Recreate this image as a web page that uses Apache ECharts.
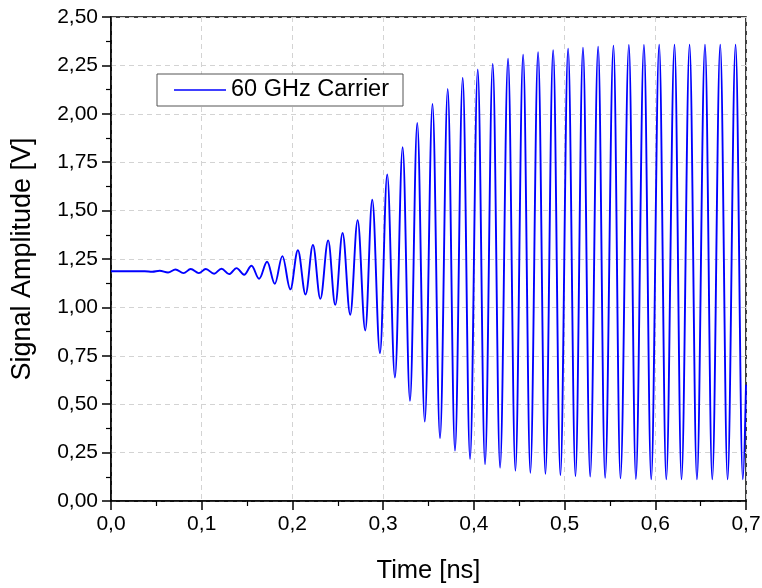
<!DOCTYPE html>
<html>
<head>
<meta charset="utf-8">
<script src="https://cdn.jsdelivr.net/npm/echarts@6/dist/echarts.min.js"></script>
<style>
html,body{margin:0;padding:0;background:#fff;}
#chart{width:762px;height:588px;}
</style>
</head>
<body>
<div id="chart"></div>
<script>
// Extrema (peaks and troughs) of the waveform
var timeNs = [0.0000, 0.0372, 0.0455, 0.0537, 0.0629, 0.0711, 0.0799, 0.0879, 0.0968, 0.1045,
  0.1137, 0.1218, 0.1302, 0.1384, 0.1468, 0.1549, 0.1633, 0.1721, 0.1806, 0.1889,
  0.1977, 0.2060, 0.2145, 0.2226, 0.2308, 0.2394, 0.2472, 0.2553, 0.2637, 0.2719,
  0.2803, 0.2880, 0.2965, 0.3045, 0.3130, 0.3215, 0.3296, 0.3376, 0.3459, 0.3544,
  0.3627, 0.3712, 0.3792, 0.3877, 0.3958, 0.4043, 0.4123, 0.4208, 0.4289, 0.4377,
  0.4458, 0.4543, 0.4623, 0.4708, 0.4789, 0.4874, 0.4954, 0.5039, 0.5120, 0.5203,
  0.5282, 0.5370, 0.5447, 0.5539, 0.5616, 0.5709, 0.5786, 0.5875, 0.5955, 0.6043,
  0.6121, 0.6212, 0.6289, 0.6378, 0.6459, 0.6548, 0.6628, 0.6716, 0.6797, 0.6885,
  0.6965, 0.7000];
var amplitudeV = [1.187, 1.187, 1.184, 1.189, 1.180, 1.196, 1.177, 1.198, 1.177, 1.198,
  1.174, 1.200, 1.172, 1.203, 1.169, 1.215, 1.148, 1.236, 1.122, 1.265,
  1.093, 1.295, 1.067, 1.322, 1.044, 1.346, 1.013, 1.384, 0.962, 1.451,
  0.881, 1.556, 0.764, 1.687, 0.638, 1.827, 0.517, 1.953, 0.410, 2.051,
  0.324, 2.129, 0.260, 2.186, 0.217, 2.229, 0.190, 2.258, 0.172, 2.284,
  0.157, 2.305, 0.146, 2.318, 0.140, 2.328, 0.134, 2.336, 0.129, 2.341,
  0.126, 2.346, 0.120, 2.352, 0.117, 2.355, 0.114, 2.356, 0.112, 2.357,
  0.112, 2.357, 0.112, 2.357, 0.112, 2.357, 0.112, 2.357, 0.112, 2.357,
  0.112, 0.600];
var seriesName = '60 GHz Carrier';
var xTitle = 'Time [ns]';
var yTitle = 'Signal Amplitude [V]';

var data = timeNs.map(function (t, i) { return [t, amplitudeV[i]]; });
var FONT = '"Liberation Sans", Arial, sans-serif';

var chart = echarts.init(document.getElementById('chart'), null, {renderer: 'canvas'});
chart.setOption({
  animation: false,
  backgroundColor: '#fff',
  grid: {left: 111, right: 16, top: 17, bottom: 87, show: true, borderColor: '#000', borderWidth: 1.5, outerBoundsMode: 'none', containLabel: false},
  legend: {
    left: 157, top: 74,
    padding: [4, 14, 4, 17],
    borderColor: '#555', borderWidth: 1,
    backgroundColor: '#fff',
    itemWidth: 52, itemHeight: 14,
    textStyle: {fontFamily: FONT, fontSize: 23.5, color: '#000'},
    data: [{name: seriesName, icon: 'path://M0,0 L52,0 L52,1.4 L0,1.4 Z', itemStyle: {color: '#0000ff'}}]
  },
  xAxis: {
    type: 'value', min: 0, max: 0.7, interval: 0.1,
    name: xTitle, nameLocation: 'middle', nameGap: 57,
    nameTextStyle: {fontFamily: FONT, fontSize: 25.5, color: '#000'},
    axisLine: {show: true, onZero: false, lineStyle: {color: '#000', width: 1.5}},
    axisTick: {show: true, inside: false, length: 9, lineStyle: {color: '#000', width: 1.5}},
    minorTick: {show: true, splitNumber: 2, length: 5, lineStyle: {color: '#000', width: 1.2}},
    axisLabel: {margin: 13, fontFamily: FONT, fontSize: 21, color: '#000',
      formatter: function (v) { return v.toFixed(1).replace('.', ','); }},
    splitLine: {show: true, lineStyle: {color: '#d3d3d3', type: [5, 4], width: 1}}
  },
  yAxis: {
    type: 'value', min: 0, max: 2.5, interval: 0.25,
    name: yTitle, nameLocation: 'middle', nameGap: 75, nameRotate: 90,
    nameTextStyle: {fontFamily: FONT, fontSize: 27, color: '#000'},
    axisLine: {show: true, onZero: false, lineStyle: {color: '#000', width: 1.5}},
    axisTick: {show: true, inside: false, length: 9, lineStyle: {color: '#000', width: 1.5}},
    minorTick: {show: true, splitNumber: 2, length: 5, lineStyle: {color: '#000', width: 1.2}},
    axisLabel: {margin: 13, fontFamily: FONT, fontSize: 21, color: '#000',
      formatter: function (v) { return v.toFixed(2).replace('.', ','); }},
    splitLine: {show: true, lineStyle: {color: '#d3d3d3', type: [5, 4], width: 1}}
  },
  series: [{
    name: seriesName, type: 'line', data: data,
    symbol: 'none', showSymbol: false,
    smooth: 0.36, smoothMonotone: 'x',
    lineStyle: {color: '#0000ff', width: 1.9},
    itemStyle: {color: '#0000ff'}
  }]
});
</script>
</body>
</html>
